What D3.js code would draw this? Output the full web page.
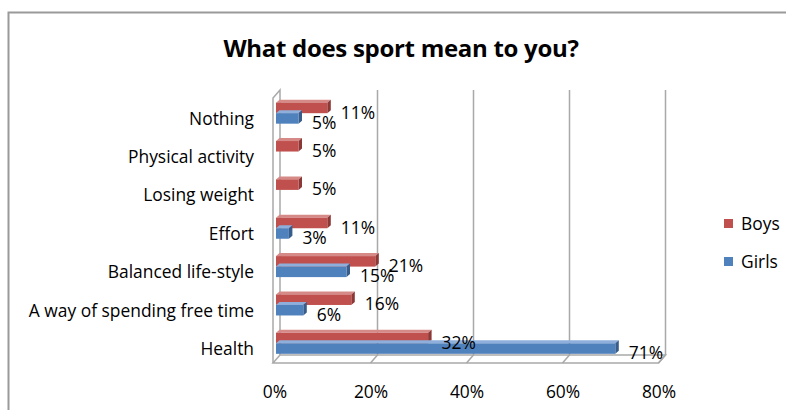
<!DOCTYPE html>
<html><head><meta charset="utf-8">
<script src="https://cdn.jsdelivr.net/npm/d3@7"></script>
<style>html,body{margin:0;padding:0;background:#fff;}svg{display:block;}</style>
</head><body>
<svg id="chart" width="786" height="410"></svg>
<script>
const categories = ["Nothing","Physical activity","Losing weight","Effort","Balanced life-style","A way of spending free time","Health"];
const boys  = [11, 5, 5, 11, 21, 16, 32];
const girls = [5, 0, 0, 3, 15, 6, 71];
const xTicks = [0, 20, 40, 60, 80];
const seriesNames = ["Boys","Girls"];
const colors = {Boys:"#C0504D", Girls:"#4F81BD"};
const sideColors = {Boys:"#8C3836", Girls:"#385D8A"};
const topColors = {Boys:"#D68A88", Girls:"#8EAEDB"};

const svg = d3.select("#chart");
const font = "'Open Sans', Lato, sans-serif";
const fs = 17.4;

// frame
svg.append("path").attr("d","M8.5,410 L8.5,12.5 L786,12.5")
  .attr("fill","none").attr("stroke","#9a9a9a").attr("stroke-width",2);

svg.append("text").attr("x",401).attr("y",57).attr("text-anchor","middle")
  .attr("font-family",font).attr("font-weight","bold").attr("font-size",24)
  .attr("letter-spacing",-0.3)
  .attr("fill","#000").text("What does sport mean to you?");

const x = d3.scaleLinear().domain([0,80]).range([274.5,658.5]);
const y = d3.scaleBand().domain(categories).range([99.5,368]).padding(0);
const dx = 7, dy = -8; // 3D depth
const floorY = 363, topY = 98;

const g = svg.append("g");
const grid = "#a9a9a9";
g.append("path").attr("d",`M${x(0)-1.5},${floorY} L${x(0)-1.5},${topY} L${x(0)-1.5+dx},${topY+dy} L${x(0)-1.5+dx},${floorY+dy}`)
  .attr("fill","#fff").attr("stroke",grid).attr("stroke-width",1.5);
g.append("path").attr("d",`M${x(0)-1.5},${floorY} L${x(80)},${floorY} L${x(80)+dx},${floorY+dy} L${x(0)-1.5+dx},${floorY+dy} Z`)
  .attr("fill","#fff").attr("stroke",grid).attr("stroke-width",1.5);
xTicks.filter(t=>t>0).forEach(t=>{
  g.append("path").attr("d",`M${x(t)},${floorY} L${x(t)+dx},${floorY+dy} L${x(t)+dx},${topY+dy}`)
    .attr("fill","none").attr("stroke",grid).attr("stroke-width",1.5);
});

const xAxis = d3.axisBottom(x).tickValues(xTicks).tickFormat(d=>d+"%").tickSize(0).tickPadding(0);
const ax = svg.append("g").attr("transform",`translate(0,398)`).call(xAxis);
ax.select(".domain").remove();
ax.selectAll("text").attr("font-family",font).attr("font-size",fs).attr("fill","#000").attr("dy",0);

const yAxis = d3.axisLeft(y).tickSize(0).tickPadding(0);
const ay = svg.append("g").attr("transform",`translate(254,0)`).call(yAxis);
ay.select(".domain").remove();
ay.selectAll("text").attr("font-family",font).attr("font-size",fs).attr("fill","#000").attr("dy","0.35em");

const bh = 10.5, d3x = 3.5, d3y = -3;
const data = [];
categories.forEach((c,i)=>{
  data.push({cat:c, s:"Boys", v:boys[i], off:-16});
  data.push({cat:c, s:"Girls", v:girls[i], off:-5.5});
});
const bars = svg.append("g");
data.filter(d=>d.v>0).forEach(d=>{
  const yc = y(d.cat)+y.bandwidth()/2;
  const y0 = yc + d.off, x0 = x(0)+1.5, x1 = x(d.v);
  bars.append("path").attr("d",`M${x0},${y0} L${x0+d3x},${y0+d3y} L${x1+d3x},${y0+d3y} L${x1},${y0} Z`).attr("fill",topColors[d.s]);
  bars.append("path").attr("d",`M${x1},${y0} L${x1+d3x},${y0+d3y} L${x1+d3x},${y0+bh+d3y} L${x1},${y0+bh} Z`).attr("fill",sideColors[d.s]);
  bars.append("rect").attr("x",x0).attr("y",y0).attr("width",x1-x0).attr("height",bh).attr("fill",colors[d.s]);
});
data.filter(d=>d.v>0).forEach(d=>{
  const yc = y(d.cat)+y.bandwidth()/2 + d.off + bh/2 + 4.5;
  svg.append("text").attr("x",x(d.v)+d3x+10).attr("y",yc).attr("dy","0.35em")
    .attr("font-family",font).attr("font-size",fs).attr("fill","#000").text(d.v+"%");
});

const leg = svg.append("g");
seriesNames.forEach((s,i)=>{
  const ly = 224 + i*38;
  leg.append("rect").attr("x",724).attr("y",ly-5).attr("width",9).attr("height",9).attr("fill",colors[s]);
  leg.append("text").attr("x",741).attr("y",ly).attr("dy","0.35em").attr("font-family",font)
    .attr("font-size",fs).attr("fill","#000").text(s);
});
</script>
</body></html>
